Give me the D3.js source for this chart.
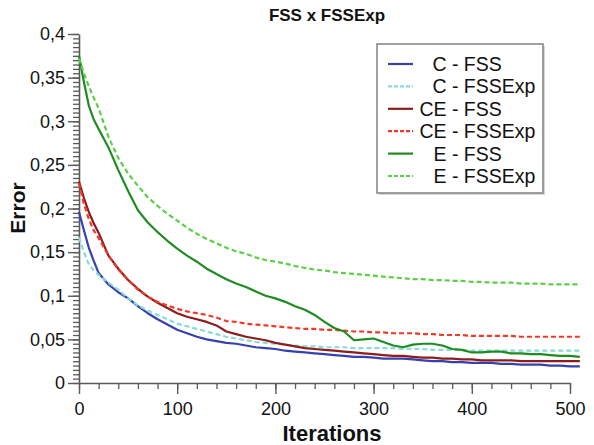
<!DOCTYPE html>
<html>
<head>
<meta charset="utf-8">
<script src="https://cdn.jsdelivr.net/npm/d3@7"></script>
<style>
  html, body { margin: 0; padding: 0; background: #fff; }
  svg { display: block; font-family: "Liberation Sans", Arial, Helvetica, sans-serif; }
</style>
</head>
<body>
<svg id="chart" width="594" height="445"></svg>
<script>
// Iteration at which each error value was sampled
const iterations = [0, 5, 10, 15, 20, 30, 40, 50, 60, 70, 80, 90, 100, 110, 120, 130, 140, 150,
  160, 170, 180, 190, 200, 210, 220, 230, 240, 250, 260, 270, 280, 290, 300, 310, 320, 330,
  340, 350, 360, 370, 380, 390, 400, 410, 420, 430, 440, 450, 460, 470, 480, 490, 500, 510];

const cFSS = [0.196, 0.175, 0.155, 0.140, 0.126, 0.113, 0.104, 0.097, 0.088, 0.080, 0.073, 0.067,
  0.061, 0.057, 0.053, 0.050, 0.048, 0.046, 0.045, 0.043, 0.041, 0.040, 0.039, 0.037, 0.036,
  0.035, 0.034, 0.033, 0.032, 0.031, 0.030, 0.030, 0.029, 0.028, 0.028, 0.028, 0.027, 0.026,
  0.025, 0.025, 0.024, 0.024, 0.023, 0.023, 0.023, 0.022, 0.022, 0.021, 0.021, 0.021, 0.020,
  0.020, 0.019, 0.019];

const cFSSExp = [0.167, 0.150, 0.136, 0.129, 0.124, 0.115, 0.107, 0.097, 0.089, 0.083, 0.078,
  0.073, 0.068, 0.065, 0.062, 0.059, 0.056, 0.053, 0.051, 0.049, 0.047, 0.046, 0.045, 0.044,
  0.043, 0.042, 0.042, 0.041, 0.041, 0.041, 0.040, 0.040, 0.040, 0.040, 0.040, 0.039, 0.039,
  0.039, 0.038, 0.038, 0.038, 0.038, 0.037, 0.037, 0.037, 0.037, 0.037, 0.037, 0.037, 0.037,
  0.037, 0.037, 0.037, 0.037];

const ceFSS = [0.231, 0.212, 0.196, 0.183, 0.172, 0.146, 0.131, 0.118, 0.108, 0.099, 0.092, 0.086,
  0.080, 0.076, 0.073, 0.070, 0.066, 0.059, 0.056, 0.053, 0.051, 0.049, 0.046, 0.044, 0.042,
  0.040, 0.039, 0.038, 0.037, 0.036, 0.035, 0.034, 0.033, 0.032, 0.031, 0.031, 0.030, 0.029,
  0.029, 0.028, 0.028, 0.027, 0.027, 0.026, 0.026, 0.026, 0.026, 0.025, 0.025, 0.025, 0.025,
  0.025, 0.025, 0.025];

const ceFSSExp = [0.229, 0.205, 0.188, 0.175, 0.166, 0.146, 0.130, 0.118, 0.107, 0.099, 0.093,
  0.089, 0.085, 0.082, 0.080, 0.078, 0.075, 0.071, 0.070, 0.068, 0.067, 0.066, 0.065, 0.064,
  0.063, 0.062, 0.062, 0.061, 0.061, 0.060, 0.059, 0.059, 0.058, 0.058, 0.057, 0.057, 0.057,
  0.056, 0.056, 0.055, 0.055, 0.055, 0.054, 0.054, 0.054, 0.054, 0.054, 0.053, 0.053, 0.053,
  0.053, 0.053, 0.053, 0.053];

const eFSS = [0.375, 0.345, 0.318, 0.302, 0.291, 0.270, 0.244, 0.220, 0.198, 0.184, 0.173, 0.163,
  0.154, 0.146, 0.139, 0.131, 0.125, 0.119, 0.114, 0.110, 0.105, 0.100, 0.097, 0.093, 0.088,
  0.084, 0.078, 0.070, 0.063, 0.059, 0.049, 0.050, 0.051, 0.047, 0.043, 0.041, 0.044, 0.045,
  0.045, 0.043, 0.039, 0.038, 0.035, 0.035, 0.036, 0.036, 0.034, 0.034, 0.033, 0.033, 0.032,
  0.031, 0.031, 0.030];

const eFSSExp = [0.372, 0.355, 0.340, 0.327, 0.315, 0.282, 0.258, 0.240, 0.226, 0.213, 0.203,
  0.194, 0.186, 0.178, 0.171, 0.165, 0.160, 0.155, 0.151, 0.148, 0.144, 0.141, 0.139, 0.137,
  0.134, 0.132, 0.130, 0.129, 0.127, 0.126, 0.125, 0.124, 0.123, 0.122, 0.121, 0.120, 0.119,
  0.119, 0.118, 0.118, 0.117, 0.117, 0.116, 0.116, 0.115, 0.115, 0.115, 0.114, 0.114, 0.114,
  0.113, 0.113, 0.113, 0.113];

const seriesNames = ["C - FSS", "C - FSSExp", "CE - FSS", "CE - FSSExp", "E - FSS", "E - FSSExp"];
const seriesValues = [cFSS, cFSSExp, ceFSS, ceFSSExp, eFSS, eFSSExp];
const seriesColors = ["#3640ae", "#86dcd8", "#8e1c1c", "#f03a26", "#1f8c22", "#5ccf48"];
const seriesDashed = [false, true, false, true, false, true];

const xTicks = [0, 100, 200, 300, 400, 500];
const yTicks = [0, 0.05, 0.1, 0.15, 0.2, 0.25, 0.3, 0.35, 0.4];

const svg = d3.select("#chart");
const axisColor = "#5a5a5a";

const x = d3.scaleLinear().domain([0, 500]).range([79, 570]);
const y = d3.scaleLinear().domain([0, 0.4]).range([383, 34]);

const fmt = d => String(+d.toFixed(2)).replace(".", ",");

// minor ticks
svg.append("g")
  .attr("transform", `translate(${x(0)},0)`)
  .call(d3.axisLeft(y).tickValues(d3.range(0, 0.4001, 0.005)).tickSize(6).tickFormat(""))
  .call(g => g.select(".domain").remove())
  .call(g => g.selectAll("line").attr("stroke", axisColor).attr("stroke-width", 1.3));

svg.append("g")
  .attr("transform", `translate(0,${y(0)})`)
  .call(d3.axisBottom(x).tickValues(d3.range(0, 501, 20)).tickSize(6).tickFormat(""))
  .call(g => g.select(".domain").remove())
  .call(g => g.selectAll("line").attr("stroke", axisColor).attr("stroke-width", 1.3));

// major axes
const yAxis = svg.append("g")
  .attr("transform", `translate(${x(0)},0)`)
  .call(d3.axisLeft(y).tickValues(yTicks).tickSize(11).tickSizeOuter(0).tickPadding(3).tickFormat(fmt));
const xAxis = svg.append("g")
  .attr("transform", `translate(0,${y(0)})`)
  .call(d3.axisBottom(x).tickValues(xTicks).tickSize(11).tickSizeOuter(0).tickPadding(8).tickFormat(d3.format("d")));

[yAxis, xAxis].forEach(g => {
  g.select(".domain").attr("stroke", axisColor).attr("stroke-width", 1.6);
  g.selectAll(".tick line").attr("stroke", axisColor).attr("stroke-width", 1.4);
  g.selectAll(".tick text").attr("fill", "#111").attr("font-size", 18)
    .attr("font-family", "'Liberation Sans', Arial, sans-serif");
});

// series lines
const line = d3.line()
  .x((d, i) => x(iterations[i]))
  .y(d => y(d));

seriesValues.forEach((vals, k) => {
  svg.append("path")
    .datum(vals)
    .attr("fill", "none")
    .attr("stroke", seriesColors[k])
    .attr("stroke-width", 2.2)
    .attr("stroke-linejoin", "round")
    .attr("stroke-dasharray", seriesDashed[k] ? "5,3" : null)
    .attr("d", line);
});

// titles
svg.append("text")
  .attr("x", 327).attr("y", 21)
  .attr("text-anchor", "middle")
  .attr("font-size", 17).attr("font-weight", "bold").attr("fill", "#111")
  .text("FSS x FSSExp");

svg.append("text")
  .attr("x", 332).attr("y", 441)
  .attr("text-anchor", "middle")
  .attr("font-size", 22).attr("font-weight", "bold").attr("fill", "#111")
  .text("Iterations");

svg.append("text")
  .attr("transform", "translate(25,208) rotate(-90)")
  .attr("text-anchor", "middle")
  .attr("font-size", 21).attr("font-weight", "bold").attr("fill", "#111")
  .text("Error");

// legend
const legend = svg.append("g");
legend.append("rect")
  .attr("x", 379).attr("y", 46).attr("width", 166).attr("height", 149)
  .attr("fill", "#d8d8d8");
legend.append("rect")
  .attr("x", 377).attr("y", 44).attr("width", 166).attr("height", 149)
  .attr("fill", "#fff").attr("stroke", "#8a8a8a").attr("stroke-width", 1.6);

seriesNames.forEach((name, k) => {
  const cy = 64 + k * 22.4;
  legend.append("line")
    .attr("x1", 388).attr("x2", 413).attr("y1", cy).attr("y2", cy)
    .attr("stroke", seriesColors[k]).attr("stroke-width", 2.2)
    .attr("stroke-dasharray", seriesDashed[k] ? "4,2" : null);
  const parts = name.split(" - ");
  legend.append("text")
    .attr("x", 446.5).attr("y", cy + 7)
    .attr("text-anchor", "end")
    .attr("font-size", 19.5).attr("fill", "#111")
    .text(parts[0]);
  legend.append("text")
    .attr("x", 446.5).attr("y", cy + 7)
    .attr("font-size", 19.5).attr("fill", "#111")
    .text("\u00a0- " + parts[1]);
});
</script>
</body>
</html>
